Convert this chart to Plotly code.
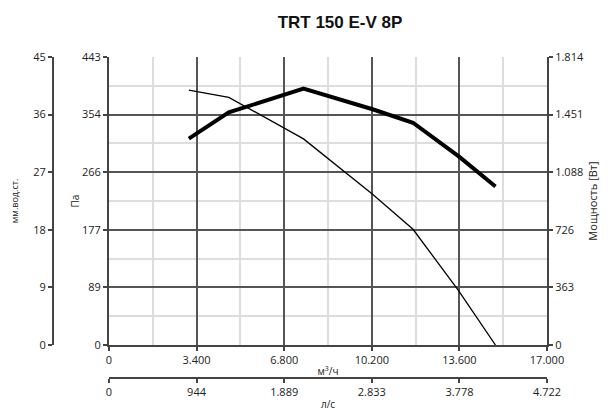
import plotly.graph_objects as go

# Data
flow_power = [3100, 4650, 7550, 10230, 11800, 13600, 15000]
power_w = [1300, 1465, 1615, 1485, 1400, 1185, 998]
flow_pressure = [3100, 4650, 7550, 10230, 11800, 13560, 15000]
pressure_pa = [392, 381, 317, 232, 178, 84, 0]

x_ticks = [0, 3400, 6800, 10200, 13600, 17000]
x_tick_text = ["0", "3.400", "6.800", "10.200", "13.600", "17.000"]
ls_ticks = [0, 944, 1889, 2833, 3778, 4722]
ls_tick_text = ["0", "944", "1.889", "2.833", "3.778", "4.722"]
pa_ticks = [0, 88.6, 177.2, 265.8, 354.4, 443]
pa_tick_text = ["0", "89", "177", "266", "354", "443"]
mm_ticks = [0, 9, 18, 27, 36, 45]
pw_ticks = [0, 362.8, 725.6, 1088.4, 1451.2, 1814]
pw_tick_text = ["0", "363", "726", "1.088", "1.451", "1.814"]

# page body has an 8px margin; figure sized to fit the window
OFF = 8
W, H = 615 - OFF, 411 - OFF


def px(x):
    return (x - OFF) / W


def py(y):
    return 1 - (y - OFF) / H


xl, xr = px(109), px(547)
yb, yt = py(345), py(57)

axis_col = "#444444"
font = dict(family="Open Sans", size=11, color="#222222")

fig = go.Figure()
fig.add_trace(go.Scatter(x=flow_pressure, y=pressure_pa, mode="lines",
                         line=dict(color="black", width=1.3), xaxis="x", yaxis="y",
                         showlegend=False))
fig.add_trace(go.Scatter(x=flow_power, y=power_w, mode="lines",
                         line=dict(color="black", width=4), xaxis="x", yaxis="y2",
                         showlegend=False))
# dummy traces for extra axes
fig.add_trace(go.Scatter(x=[0], y=[0], mode="markers", marker=dict(opacity=0),
                         xaxis="x", yaxis="y3", showlegend=False, hoverinfo="skip"))
fig.add_trace(go.Scatter(x=[0], y=[0], mode="markers", marker=dict(opacity=0),
                         xaxis="x2", yaxis="y", showlegend=False, hoverinfo="skip"))

common = dict(showline=True, linecolor=axis_col, linewidth=2, ticks="outside",
              ticklen=4, tickwidth=2, tickcolor=axis_col, zeroline=False,
              tickfont=font, automargin=False)

fig.update_layout(
    width=W, height=H,
    margin=dict(l=0, r=0, t=0, b=0),
    plot_bgcolor="white", paper_bgcolor="white",
    font=font,
    title=dict(text="<b>TRT 150 E-V 8P</b>", x=px(340), xanchor="center",
               y=py(22), yanchor="middle", automargin=False,
               font=dict(family="Liberation Sans", size=17, color="#111111")),
    xaxis=dict(domain=[xl, xr], range=[0, 17000], tickvals=x_ticks, ticktext=x_tick_text,
               showgrid=True, gridcolor="#555555", gridwidth=1.5,
               minor=dict(tickvals=[1700, 5100, 8500, 11900, 15300], showgrid=True,
                          gridcolor="#dddddd", gridwidth=1.5, ticks=""),
               title=dict(text="м<sup>3</sup>/ч", font=dict(family="Open Sans", size=10, color="#222"),
                          standoff=2),
               anchor="y", **common),
    xaxis2=dict(overlaying="x", domain=[xl, xr], range=[0, 4722], tickvals=ls_ticks,
                ticktext=ls_tick_text, showgrid=False, anchor="free",
                position=py(378), side="bottom",
                title=dict(text="л/с", font=dict(family="Open Sans", size=10, color="#222"),
                           standoff=2),
                **common),
    yaxis=dict(domain=[yb, yt], range=[0, 443], tickvals=pa_ticks, ticktext=pa_tick_text,
               showgrid=True, gridcolor="#555555", gridwidth=1.5,
               minor=dict(tickvals=[44.3, 132.9, 221.5, 310.1, 398.7], showgrid=True,
                          gridcolor="#dddddd", gridwidth=1.5, ticks=""),
               title=dict(text="Па", font=dict(family="Open Sans", size=10, color="#222"),
                          standoff=0),
               anchor="x", **common),
    yaxis2=dict(overlaying="y", side="right", range=[0, 1814], tickvals=pw_ticks,
                ticktext=pw_tick_text, showgrid=False, anchor="x",
                title=dict(text="Мощность [Вт]", font=dict(family="Open Sans", size=11, color="#222"),
                           standoff=6),
                **common),
    yaxis3=dict(overlaying="y", side="left", range=[0, 45], tickvals=mm_ticks,
                showgrid=False, anchor="free", position=px(53),
                title=dict(text="мм.вод.ст.", font=dict(family="Open Sans", size=9, color="#222"),
                           standoff=12),
                **common),
)

fig.write_html("out.html")
